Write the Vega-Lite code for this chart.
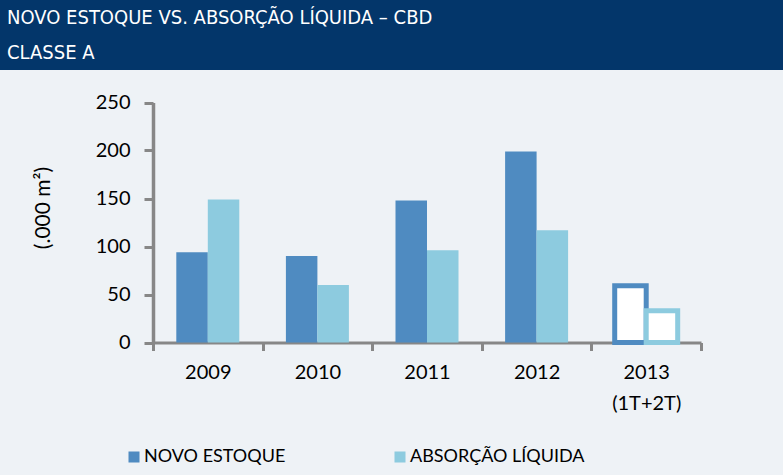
{
  "$schema": "https://vega.github.io/schema/vega-lite/v6.json",
  "background": "#eef2f6",
  "padding": 0,
  "spacing": 0,
  "config": {"view": {"stroke": null}},
  "vconcat": [
    {
      "width": 783,
      "height": 70,
      "view": {"fill": "#03366a", "stroke": null},
      "data": {"values": [
        {"row": 1, "line": "NOVO ESTOQUE VS. ABSORÇÃO LÍQUIDA – CBD"},
        {"row": 2, "line": "CLASSE A"}
      ]},
      "mark": {"type": "text", "align": "left", "baseline": "middle", "color": "#ffffff", "font": "Liberation Sans Narrow, DejaVu Sans Condensed, sans-serif", "fontSize": 20},
      "encoding": {
        "y": {"field": "row", "type": "ordinal", "axis": null, "scale": {"type": "point", "padding": 0.5}},
        "x": {"value": 7},
        "text": {"field": "line"}
      }
    },
    {
      "width": 783,
      "height": 405,
      "data": {"values": [
        {"year": "2009", "series": "NOVO ESTOQUE", "value": 94},
        {"year": "2009", "series": "ABSORÇÃO LÍQUIDA", "value": 149},
        {"year": "2010", "series": "NOVO ESTOQUE", "value": 90},
        {"year": "2010", "series": "ABSORÇÃO LÍQUIDA", "value": 60},
        {"year": "2011", "series": "NOVO ESTOQUE", "value": 148},
        {"year": "2011", "series": "ABSORÇÃO LÍQUIDA", "value": 96},
        {"year": "2012", "series": "NOVO ESTOQUE", "value": 199},
        {"year": "2012", "series": "ABSORÇÃO LÍQUIDA", "value": 117},
        {"year": "2013 (1T+2T)", "series": "NOVO ESTOQUE", "value": 59},
        {"year": "2013 (1T+2T)", "series": "ABSORÇÃO LÍQUIDA", "value": 33}
      ]},
      "mark": {"type": "bar"},
      "encoding": {
        "x": {
          "field": "year", "type": "nominal", "sort": null,
          "scale": {"paddingInner": 0, "paddingOuter": 0, "range": [153, 701]},
          "axis": {
            "title": null, "offset": -132.5, "labelAngle": 0, "labelFont": "Lato", "labelFontSize": 20, "labelColor": "#000000",
            "labelExpr": "split(datum.label, ' ')", "labelLineHeight": 31, "labelPadding": 12,
            "tickBand": "extent", "tickSize": 8, "tickWidth": 3, "tickColor": "#878787",
            "domainColor": "#878787", "domainWidth": 3, "grid": false
          }
        },
        "xOffset": {"field": "series", "type": "nominal", "sort": ["NOVO ESTOQUE", "ABSORÇÃO LÍQUIDA"], "scale": {"paddingInner": 0, "paddingOuter": 0.74}},
        "y": {
          "field": "value", "type": "quantitative",
          "scale": {"domain": [0, 250], "nice": false, "range": [272.5, 32.5]},
          "axis": {
            "offset": -153,
            "values": [0, 50, 100, 150, 200, 250], "grid": false,
            "labelFont": "Lato", "labelFontSize": 20, "labelColor": "#000000", "labelPadding": 14,
            "tickSize": 9, "tickWidth": 3, "tickColor": "#878787",
            "domainColor": "#878787", "domainWidth": 3.5,
            "title": "(.000 m²)", "titleFont": "Lato", "titleFontSize": 21, "titleFontWeight": "normal",
            "titleColor": "#000000", "titlePadding": 42, "titleY": 137.5
          }
        },
        "fill": {
          "condition": {"test": "datum.year === '2013 (1T+2T)'", "value": "#ffffff"},
          "field": "series", "type": "nominal",
          "scale": {"domain": ["NOVO ESTOQUE", "ABSORÇÃO LÍQUIDA"], "range": ["#4f8bc1", "#8dcbdf"]},
          "legend": {
            "title": null, "orient": "none", "legendX": 125, "legendY": 448, "padding": 0, "direction": "horizontal",
            "symbolType": "square", "symbolSize": 121, "symbolStrokeWidth": 0, "symbolOpacity": 1,
            "labelFont": "Lato", "labelFontSize": 18, "labelColor": "#000000", "labelOffset": 1, "labelLimit": 400,
            "columnPadding": 105
          }
        },
        "stroke": {
          "field": "series", "type": "nominal",
          "scale": {"domain": ["NOVO ESTOQUE", "ABSORÇÃO LÍQUIDA"], "range": ["#4f8bc1", "#8dcbdf"]},
          "legend": null
        },
        "strokeWidth": {
          "condition": {"test": "datum.year === '2013 (1T+2T)'", "value": 5},
          "value": 0
        }
      }
    }
  ]
}
